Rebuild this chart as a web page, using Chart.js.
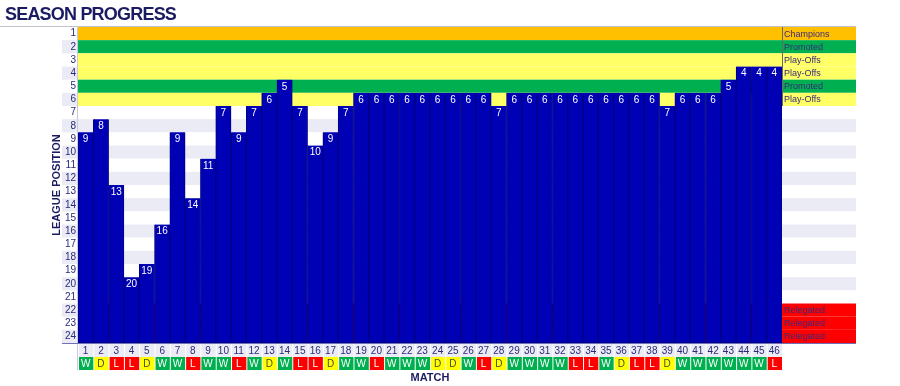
<!DOCTYPE html>
<html>
<head>
    <title>Season Progress</title>
    <script src="https://cdn.jsdelivr.net/npm/chart.js"></script>
    <style>
        body { margin: 0; background: #fff; }
        #wrap { position: relative; width: 900px; height: 386px; }
        #title {
            position: absolute; left: 5px; top: 3px;
            font: bold 18px 'Liberation Sans', Arial, sans-serif;
            line-height: 22px; letter-spacing: -0.8px; color: #1b1b62;
        }
    </style>
</head>
<body>
<div id="wrap">
    <div id="title">SEASON PROGRESS</div>
    <canvas id="seasonChart"></canvas>
</div>

<script>
// match numbers, league position after each match, result of each match
const matches = Array.from({length: 46}, (_, i) => String(i + 1));
const positions = [9, 8, 13, 20, 19, 16, 9, 14, 11, 7, 9, 7, 6, 5, 7, 10, 9, 7,
    6, 6, 6, 6, 6, 6, 6, 6, 6, 7, 6, 6, 6, 6, 6, 6, 6, 6, 6, 6, 7, 6, 6, 6, 5, 4, 4, 4];
const results = ['W','D','L','L','D','W','W','L','W','W','L','W','D','W','L','L','D','W',
    'W','L','W','W','W','D','D','W','L','D','W','W','W','W','L','L','W','D','L','L','D',
    'W','W','W','W','W','W','L'];

// league table rows 1..24 and what finishing there means
const tableRows = Array.from({length: 24}, (_, i) => i + 1);
const zones = ['Champions', 'Promoted', 'Play-Offs', 'Play-Offs', 'Promoted', 'Play-Offs',
    '', '', '', '', '', '', '', '', '', '', '', '', '', '', '',
    'Relegated', 'Relegated', 'Relegated'];

const NAVY = '#2a2a78';
const LAVENDER = '#ebebf5';
const zoneColors = { 'Champions': '#ffc000', 'Promoted': '#00b050', 'Play-Offs': '#ffff66', 'Relegated': '#ff0000' };
const resultColors = { W: '#00b050', D: '#ffff00', L: '#ff0000' };
const resultText = { W: '#ffffff', D: '#4a4a30', L: '#ffffff' };

const backdrop = {
    id: 'backdrop',
    beforeDraw(chart) {
        const {ctx, chartArea: a, scales: {x, y}} = chart;
        const colRight = a.right + 74;
        ctx.save();
        // line along the top of the table
        ctx.fillStyle = '#c4c0cc';
        ctx.fillRect(0, a.top - 1, colRight, 1);

        tableRows.forEach((row, i) => {
            const top = y.getPixelForValue(row - 0.5);
            const bottom = y.getPixelForValue(row + 0.5);
            const zone = zones[i];
            ctx.fillStyle = zone ? zoneColors[zone] : (row % 2 === 0 ? LAVENDER : '#ffffff');
            ctx.fillRect(a.left, top, colRight - a.left, bottom - top);
            if (row % 2 === 0) {
                ctx.fillStyle = LAVENDER;
                ctx.fillRect(a.left - 16, top, 16, bottom - top);
            }
            if (zone) {
                ctx.fillStyle = '#3a2a7a';
                ctx.font = '9px "Liberation Sans", Arial, sans-serif';
                ctx.textAlign = 'left';
                ctx.textBaseline = 'middle';
                ctx.fillText(zone, a.right + 2, (top + bottom) / 2 + 0.5);
            }
        });

        // match number row and result row
        const half = (x.getPixelForValue(1) - x.getPixelForValue(0)) / 2;
        matches.forEach((m, i) => {
            const cx = x.getPixelForValue(i);
            ctx.fillStyle = LAVENDER;
            ctx.fillRect(cx - half + 1, a.bottom + 1, half * 2 - 1, 13);
            ctx.fillStyle = resultColors[results[i]];
            ctx.fillRect(cx - half + 1, a.bottom + 14, half * 2 - 1, 13);
            ctx.fillStyle = resultText[results[i]];
            ctx.font = '10px "Liberation Sans", Arial, sans-serif';
            ctx.textAlign = 'center';
            ctx.textBaseline = 'middle';
            ctx.fillText(results[i], cx, a.bottom + 21);
        });

        // axis lines
        ctx.fillStyle = '#c8c8e0';
        ctx.fillRect(a.left - 1, a.top, 1, a.bottom + 27 - a.top);
        ctx.fillStyle = '#7070b8';
        ctx.fillRect(a.left - 16, a.bottom, colRight - a.left + 16, 1);
        ctx.fillStyle = '#6a6a6a';
        ctx.fillRect(a.right, a.top, 1, y.getPixelForValue(6.5) - a.top);
        ctx.restore();
    },
    afterDatasetsDraw(chart) {
        const {ctx, scales: {y}} = chart;
        const bars = chart.getDatasetMeta(0).data;
        ctx.save();
        ctx.fillStyle = '#ffffff';
        ctx.font = '10px "Liberation Sans", Arial, sans-serif';
        ctx.textAlign = 'center';
        ctx.textBaseline = 'middle';
        positions.forEach((p, i) => {
            ctx.fillText(String(p), bars[i].x, y.getPixelForValue(p) + 0.5);
        });
        ctx.restore();
    }
};

const ctx = document.getElementById('seasonChart').getContext('2d');
new Chart(ctx, {
    type: 'bar',
    data: {
        labels: matches,
        datasets: [{
            data: positions.map(p => [24.5, p - 0.5]),
            backgroundColor: '#0000b4',
            borderColor: '#000080',
            borderWidth: 1,
            borderSkipped: 'start',
            categoryPercentage: 1,
            barPercentage: 1
        }]
    },
    options: {
        responsive: true,
        maintainAspectRatio: false,
        animation: false,
        layout: { padding: { left: 48, right: 118, top: 27, bottom: 0 } },
        plugins: { legend: { display: false }, tooltip: { enabled: false } },
        scales: {
            x: {
                grid: { display: false, drawTicks: false },
                border: { display: false },
                ticks: {
                    autoSkip: false, maxRotation: 0, padding: 2,
                    color: NAVY, font: { size: 10, family: '"Liberation Sans", Arial, sans-serif' }
                },
                title: {
                    display: true, text: 'MATCH', color: '#1b1b62',
                    font: { size: 11, weight: 'bold', family: '"Liberation Sans", Arial, sans-serif' },
                    padding: { top: 0, bottom: 1.5 }
                },
                afterFit(s) { s.height = 43; }
            },
            y: {
                reverse: true,
                min: 0.5,
                max: 24.5,
                grid: { display: false, drawTicks: false },
                border: { display: false },
                afterBuildTicks(s) { s.ticks = tableRows.map(v => ({ value: v })); },
                ticks: {
                    autoSkip: false, padding: 2,
                    color: NAVY, font: { size: 10, family: '"Liberation Sans", Arial, sans-serif' }
                },
                title: {
                    display: true, text: 'LEAGUE POSITION', color: '#1b1b62',
                    font: { size: 11, weight: 'bold', family: '"Liberation Sans", Arial, sans-serif' },
                    padding: { top: 2, bottom: 0 }
                },
                afterFit(s) { s.width = 30; }
            }
        }
    },
    plugins: [backdrop]
});
</script>
</body>
</html>
